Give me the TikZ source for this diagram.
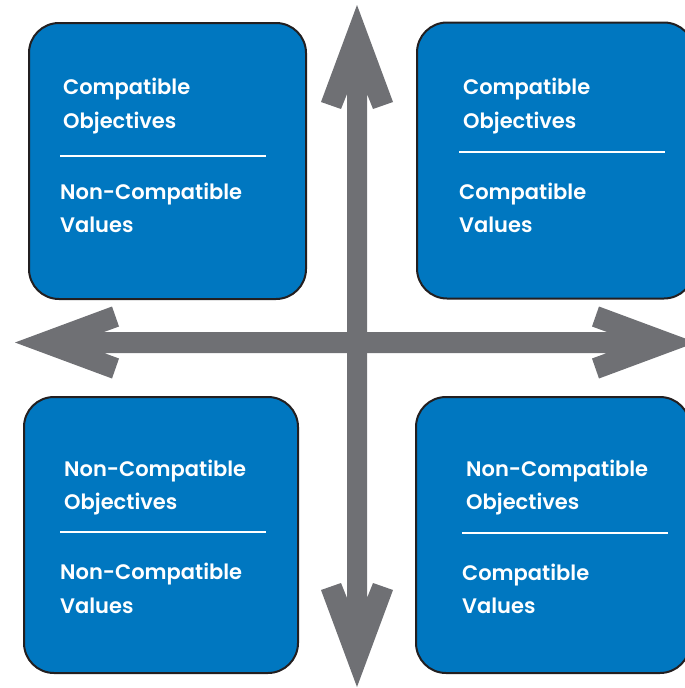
\documentclass[tikz,border=0pt]{standalone}
\usepackage{fontspec}
\setmainfont{Poppins}[UprightFont=* SemiBold]
\definecolor{boxblue}{RGB}{0,119,192}
\definecolor{arrowgray}{RGB}{111,112,116}
\definecolor{edge}{RGB}{35,31,32}
\begin{document}
\begin{tikzpicture}[x=1pt,y=-1pt,
  quad/.style={draw=edge,line width=2pt,fill=boxblue,rounded corners=30pt,
    minimum width=#1,minimum height=276pt,inner sep=0pt},
  quad/.default=277pt,
  label/.style={anchor=base west,inner sep=0pt,text=white,
    font=\fontsize{21}{25}\selectfont},
  divider/.style={draw=white,line width=2.5pt},
  shaft/.style={fill=arrowgray}]
\useasboundingbox (0,0) rectangle (685,688);
\clip (0,0) rectangle (685,688);

% quadrant boxes
\node[quad] (tl) at (167.5,161) {};
\node[quad] (tr) at (555.5,160.5) {};
\node[quad=274pt] (bl) at (161,535) {};
\node[quad=274pt] (br) at (553,535) {};

% horizontal double arrow (centre line y = 342.5)
\fill[arrowgray]
  (15,342.5) -- (112,306.5) -- (119,326.5) -- (104,332) --
  (607,332) -- (592,326.5) -- (599,306.5) -- (696,342.5) --
  (599,378.5) -- (592,358.5) -- (607,353) --
  (104,353) -- (119,358.5) -- (112,378.5) -- cycle;

% vertical double arrow (centre line x = 357)
\fill[arrowgray]
  (357,5) -- (393,102) -- (373,109) -- (367,94) --
  (367,598) -- (373,583) -- (393,590) -- (357,687) --
  (321,590) -- (341,583) -- (347,598) --
  (347,94) -- (341,109) -- (321,102) -- cycle;

% top-left texts
\node[label] (tlo1) at (63,94) {Compatible};
\node[label] (tlo2) at (63,128) {Objectives};
\draw[divider] (60,156) -- (266,156);
\node[label] (tlv1) at (60,199) {Non-Compatible};
\node[label] (tlv2) at (60,232) {Values};

% top-right texts
\node[label] (tro1) at (463,94) {Compatible};
\node[label] (tro2) at (463,128) {Objectives};
\draw[divider] (459,152) -- (665,152);
\node[label] (trv1) at (459,199) {Compatible};
\node[label] (trv2) at (459,232) {Values};

% bottom-left texts
\node[label] (blo1) at (64,476) {Non-Compatible};
\node[label] (blo2) at (64,509) {Objectives};
\draw[divider] (60,532) -- (266,532);
\node[label] (blv1) at (60,579) {Non-Compatible};
\node[label] (blv2) at (60,613) {Values};

% bottom-right texts
\node[label] (bro1) at (466,476) {Non-Compatible};
\node[label] (bro2) at (466,509) {Objectives};
\draw[divider] (462,533) -- (668,533);
\node[label] (brv1) at (462,580) {Compatible};
\node[label] (brv2) at (462,613) {Values};
\end{tikzpicture}
\end{document}
